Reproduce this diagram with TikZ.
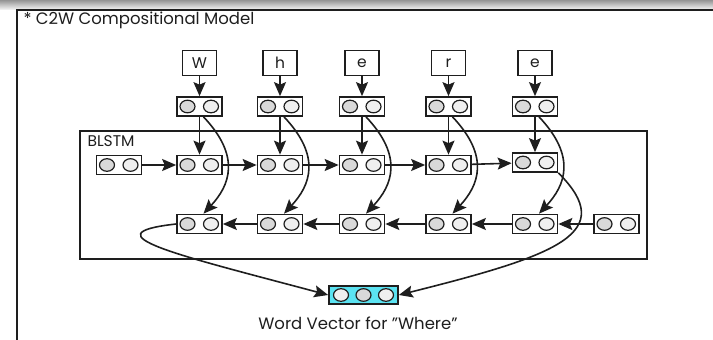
\documentclass[tikz,border=0pt]{standalone}
\usepackage{fontspec}
\setmainfont{Poppins}
\usetikzlibrary{arrows.meta}
\definecolor{ink}{HTML}{1E1E1E}
\definecolor{dotdark}{HTML}{D9D9D9}
\definecolor{dotlight}{HTML}{EFEFEF}
\definecolor{vecfill}{HTML}{5BE3F2}

\begin{document}
\begin{tikzpicture}[x=1pt,y=-1pt,font=\fontsize{15.5}{18}\selectfont,color=ink,
     chr/.style={draw,line width=1.7pt,minimum width=34pt,minimum height=25pt,inner sep=0pt},
     emb/.style={draw,line width=1.7pt,fill=white,minimum width=45pt,minimum height=19pt,inner sep=0pt,
       path picture={\draw[line width=1.2pt,fill=dotdark]([xshift=-12pt]path picture bounding box.center) ellipse (7.5pt and 6.3pt);
         \draw[line width=1.2pt,fill=dotlight]([xshift=11.5pt]path picture bounding box.center) ellipse (7.5pt and 6.3pt);}},
     vec/.style={draw,line width=1.7pt,fill=vecfill,minimum width=69pt,minimum height=18pt,inner sep=0pt,
       path picture={\draw[line width=1.2pt,fill=dotlight]([xshift=-22.5pt]path picture bounding box.center) ellipse (7.5pt and 6.3pt);
         \draw[line width=1.2pt,fill=dotdark](path picture bounding box.center) ellipse (7.5pt and 6.3pt);
         \draw[line width=1.2pt,fill=dotlight]([xshift=22.5pt]path picture bounding box.center) ellipse (7.5pt and 6.3pt);}},
     arr/.style={-{Stealth[length=14pt,width=12pt,inset=2.5pt]},line width=1.6pt}]
    \useasboundingbox (0,0) rectangle (713,340);
    % page frame
    \shade[top color=black!42,bottom color=black!6] (0,0) rectangle (713,9);
    \draw[line width=2pt] (17,340) -- (17,9.5) -- (713,9.5);
    \node[anchor=west,font=\fontsize{16.5}{19}\selectfont](title) at (20,20.5){* C2W Compositional Model};
    \draw[line width=1.7pt] (80,131) rectangle (647,259);
    \node[anchor=west](blstm) at (84,141){BLSTM};
    % characters, embeddings and both LSTM rows
    \foreach \c/\x/\fy [count=\i] in {W/199.5/165,h/280/165,e/362/165,r/448.5/165,e/535/162.5}{
      \node[chr](c\i) at (\x,63){\c}; \node[emb](e\i) at (\x,106.5){};
      \node[emb](f\i) at (\x,\fy){}; \node[emb](b\i) at (\x,224){};
      \draw[arr](c\i)--(e\i); \draw[arr](e\i)--(f\i);
      \draw[arr]([xshift=4pt]e\i.south) .. controls +(38,40) and +(26,-28) .. ([xshift=4pt]b\i.north);}
    \node[emb](f0) at (119,165){}; \node[emb](b6) at (616.5,224){};
    \foreach \j/\i in {0/1,1/2,2/3,3/4,4/5}{\draw[arr](f\j)--(f\i);}
    \foreach \j/\i in {6/5,5/4,4/3,3/2,2/1}{\draw[arr](b\j)--(b\i);}
    % word vector
    \node[vec](out) at (363.5,295){};
    \node[font=\fontsize{16.5}{19}\selectfont](lbl) at (358,323){Word Vector for \symbol{34}Where\symbol{34}};
    \draw[arr](b1.west) .. controls +(-90,10) and +(-150,-40) .. (out.west);
    \draw[arr](f5.south east) .. controls +(60,60) and +(160,-40) .. (out.east);
  \end{tikzpicture}
\end{document}
